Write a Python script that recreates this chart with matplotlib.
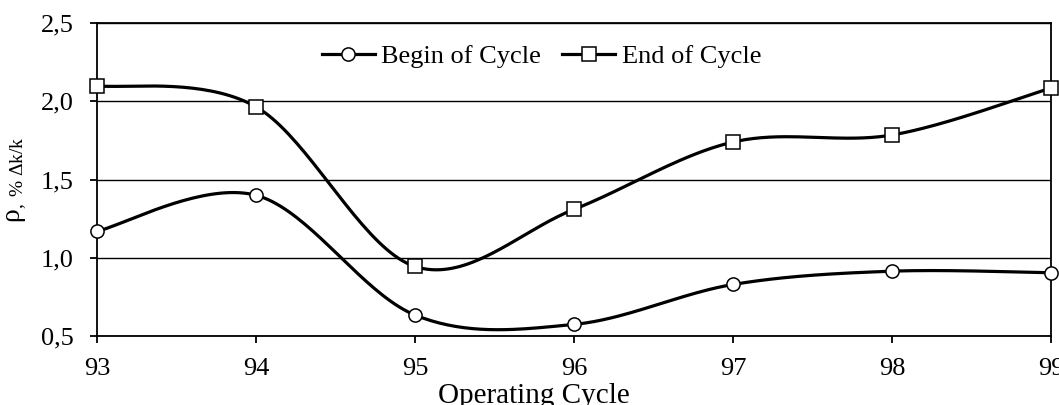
import numpy as np
import matplotlib
matplotlib.use("Agg")
import matplotlib.pyplot as plt
from matplotlib.ticker import MultipleLocator, FuncFormatter


cycles = [93, 94, 95, 96, 97, 98, 99]
begin_of_cycle = [1.17, 1.40, 0.635, 0.575, 0.83, 0.915, 0.905]
end_of_cycle = [2.10, 1.965, 0.945, 1.31, 1.74, 1.785, 2.085]

plt.rcParams["font.family"] = ["Liberation Serif", "DejaVu Serif"]
plt.rcParams["mathtext.fontset"] = "custom"
plt.rcParams["mathtext.rm"] = "Liberation Serif"
plt.rcParams["mathtext.it"] = "Liberation Serif:italic"


def smooth_curve(xs, ys, steps=40):
    """Excel-like smoothed line: Catmull-Rom segments as cubic Bezier."""
    pts = np.column_stack([xs, ys]).astype(float)
    padded = np.vstack([pts[0], pts, pts[-1]])
    t = np.linspace(0, 1, steps)[:, None]
    out = []
    for i in range(len(pts) - 1):
        p0, p1, p2, p3 = padded[i], padded[i + 1], padded[i + 2], padded[i + 3]
        c1 = p1 + (p2 - p0) / 6
        c2 = p2 - (p3 - p1) / 6
        seg = ((1 - t) ** 3) * p1 + 3 * ((1 - t) ** 2) * t * c1 + 3 * (1 - t) * t ** 2 * c2 + t ** 3 * p2
        out.append(seg if i == 0 else seg[1:])
    seg_all = np.vstack(out)
    return seg_all[:, 0], seg_all[:, 1]


fig = plt.figure(figsize=(10.59, 4.05), dpi=100)
ax = fig.add_axes([0.0916, 0.170, 0.9008, 0.773])

for values, marker, label in [
    (begin_of_cycle, "o", "Begin of Cycle"),
    (end_of_cycle, "s", "End of Cycle"),
]:
    sx, sy = smooth_curve(cycles, values)
    ax.plot(sx, sy, color="black", linewidth=2.3, zorder=3)
    ax.plot(cycles, values, linestyle="None", marker=marker, markersize=9.5,
            markerfacecolor="white", markeredgecolor="black", markeredgewidth=1.1,
            zorder=4, clip_on=False)
    # legend proxy
    ax.plot([], [], color="black", linewidth=2.3, marker=marker, markersize=9.5,
            markerfacecolor="white", markeredgecolor="black", markeredgewidth=1.1,
            label=label)

ax.set_xlim(93, 99)
ax.set_ylim(0.5, 2.5)
ax.xaxis.set_major_locator(MultipleLocator(1))
ax.yaxis.set_major_locator(MultipleLocator(0.5))
ax.yaxis.set_major_formatter(FuncFormatter(lambda v, p: f"{v:.1f}".replace(".", ",")))
ax.grid(axis="y", color="black", linewidth=1.0)
ax.set_axisbelow(True)
for spine in ax.spines.values():
    spine.set_linewidth(1.3)
ax.tick_params(axis="both", direction="out", length=5, width=1.3, labelsize=19, colors="black")
ax.tick_params(axis="y", pad=12)
ax.tick_params(axis="x", pad=11)

ax.set_xlabel("Operating Cycle", fontsize=21)
ax.xaxis.set_label_coords(0.458, -0.15)
ax.set_ylabel(r"ρ$_{,\ \%\ \Delta\mathrm{k/k}}$", fontsize=20, labelpad=8)

ax.legend(loc="upper center", bbox_to_anchor=(0.466, 0.99), ncol=2, frameon=False,
          fontsize=19, handlelength=2.0, handletextpad=0.25, columnspacing=0.8,
          borderaxespad=0.3)

fig.savefig("out.png", dpi=100)
